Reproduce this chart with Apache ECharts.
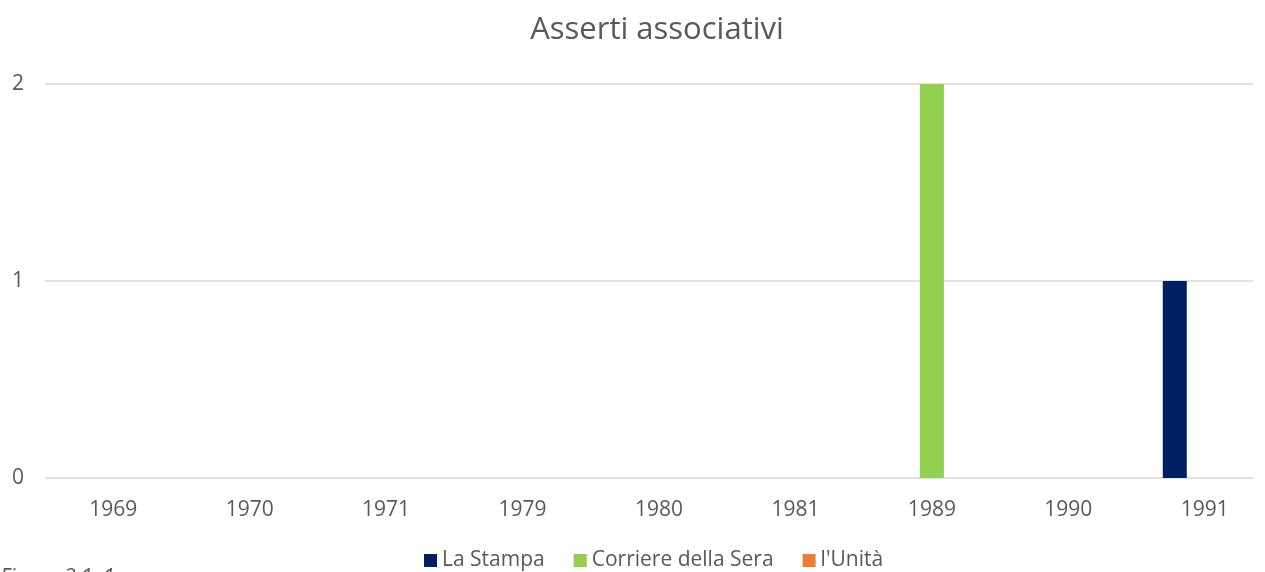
<!DOCTYPE html>
<html>
<head>
<meta charset="utf-8">
<script src="https://cdn.jsdelivr.net/npm/echarts@6/dist/echarts.min.js"></script>
<style>
  html, body { margin: 0; padding: 0; background: #fff; }
  #chart { width: 1265px; height: 572px; }
</style>
</head>
<body>
<div id="chart"></div>
<script>
var years = ["1969", "1970", "1971", "1979", "1980", "1981", "1989", "1990", "1991"];
var laStampa = [0, 0, 0, 0, 0, 0, 0, 0, 1];
var corriere = [0, 0, 0, 0, 0, 0, 2, 0, 0];
var unita = [0, 0, 0, 0, 0, 0, 0, 0, 0];
var yTicks = [0, 1, 2];

var dom = document.getElementById("chart");
var myChart = echarts.init(dom, null, { renderer: "canvas" });

var font = "'Open Sans', 'Noto Sans', sans-serif";
var grey = "#595959";

var option = {
  animation: false,
  title: {
    text: "Asserti associativi",
    left: 652,
    textAlign: "center",
    top: 10,
    textStyle: { fontFamily: font, fontSize: 31, fontWeight: "normal", color: grey }
  },
  legend: {
    bottom: -4,
    left: 419,
    itemWidth: 13,
    itemHeight: 13,
    itemGap: 29,
    icon: "rect",
    textStyle: { fontFamily: font, fontSize: 21, color: grey },
    data: ["La Stampa", "Corriere della Sera", "l'Unità"]
  },
  graphic: [{
    type: "text",
    left: 0,
    top: 568,
    style: { text: "Figura 3.1: 1", font: "italic 21px " + font, fill: grey }
  }],
  // grid 0 carries the gridlines, grid 1 carries the bars and year labels
  grid: [
    { left: 45, right: 12, top: 84, bottom: 94, outerBoundsMode: "none" },
    { left: 45, right: -8, top: 84, bottom: 94, outerBoundsMode: "none" }
  ],
  xAxis: [
    { gridIndex: 0, type: "category", data: years, show: false },
    {
      gridIndex: 1, type: "category", data: years,
      axisLine: { show: false }, axisTick: { show: false },
      axisLabel: { fontFamily: font, fontSize: 21, color: grey, margin: 22 }
    }
  ],
  yAxis: [
    {
      gridIndex: 0, type: "value", min: yTicks[0], max: yTicks[yTicks.length - 1], interval: 1,
      axisLine: { show: false }, axisTick: { show: false },
      axisLabel: { fontFamily: font, fontSize: 21, color: grey, margin: 21 },
      splitLine: { lineStyle: { color: "#d9d9d9", width: 1.5 } }
    },
    { gridIndex: 1, type: "value", min: yTicks[0], max: yTicks[yTicks.length - 1], interval: 1, show: false, splitLine: { show: false } }
  ],
  series: [
    { name: "La Stampa", type: "bar", xAxisIndex: 1, yAxisIndex: 1, data: laStampa, barWidth: 24, barGap: "25%", itemStyle: { color: "#002060" } },
    { name: "Corriere della Sera", type: "bar", xAxisIndex: 1, yAxisIndex: 1, data: corriere, barWidth: 24, barGap: "25%", itemStyle: { color: "#92D050" } },
    { name: "l'Unità", type: "bar", xAxisIndex: 1, yAxisIndex: 1, data: unita, barWidth: 24, barGap: "25%", itemStyle: { color: "#ED7D31" } }
  ]
};

myChart.setOption(option);
window.addEventListener("resize", myChart.resize);
</script>
</body>
</html>
